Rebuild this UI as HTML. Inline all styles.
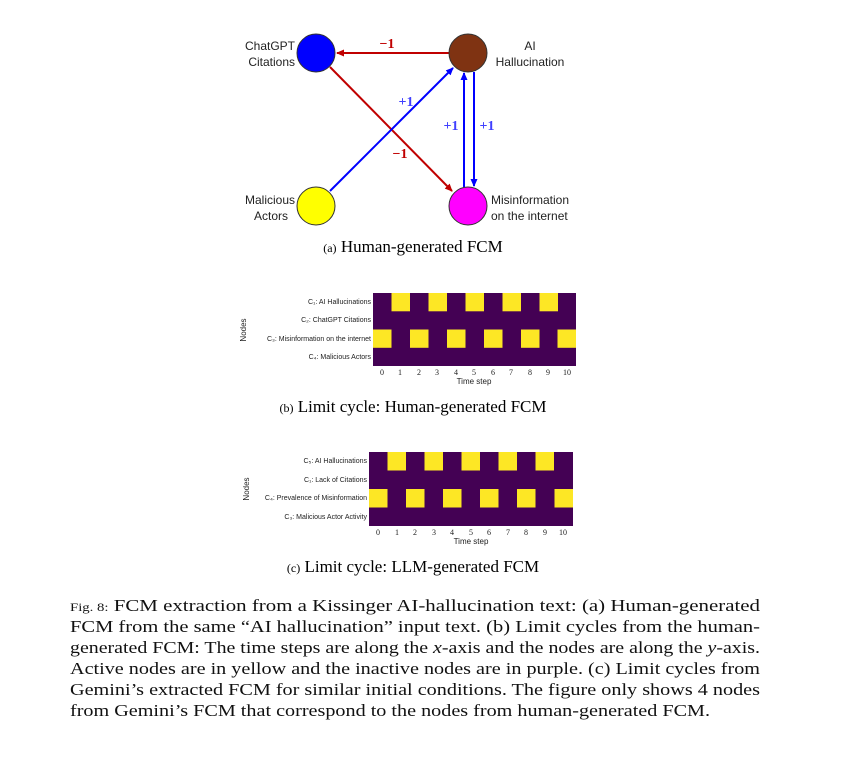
<!DOCTYPE html>
<html><head><style>
body{margin:0;background:#fff;width:853px;height:771px;overflow:hidden}
svg{display:block}
.s{font-family:"Liberation Sans",sans-serif}
.r{font-family:"Liberation Serif",serif}
</style></head><body>
<svg width="853" height="771" viewBox="0 0 853 771" xmlns="http://www.w3.org/2000/svg">
<defs>
<marker id="ar" markerWidth="8" markerHeight="8" refX="7" refY="4" orient="auto" markerUnits="userSpaceOnUse"><path d="M0,0.5 L8,4 L0,7.5 Z" fill="#c00000"/></marker>
<marker id="ab" markerWidth="8" markerHeight="8" refX="7" refY="4" orient="auto" markerUnits="userSpaceOnUse"><path d="M0,0.5 L8,4 L0,7.5 Z" fill="#0000ff"/></marker>
</defs>
<!-- edges -->
<line x1="449" y1="53" x2="337" y2="53" stroke="#c00000" stroke-width="2" marker-end="url(#ar)"/>
<line x1="330" y1="67" x2="452" y2="191" stroke="#c00000" stroke-width="2" marker-end="url(#ar)"/>
<line x1="330" y1="191" x2="453" y2="68" stroke="#0000ff" stroke-width="2" marker-end="url(#ab)"/>
<line x1="464" y1="187" x2="464" y2="73" stroke="#0000ff" stroke-width="2" marker-end="url(#ab)"/>
<line x1="474" y1="72" x2="474" y2="186" stroke="#0000ff" stroke-width="2" marker-end="url(#ab)"/>
<circle cx="316" cy="53" r="19" fill="#0000ff" stroke="#333" stroke-width="1"/>
<circle cx="468" cy="53" r="19" fill="#7f3312" stroke="#333" stroke-width="1"/>
<circle cx="316" cy="206" r="19" fill="#ffff00" stroke="#333" stroke-width="1"/>
<circle cx="468" cy="206" r="19" fill="#ff00ff" stroke="#333" stroke-width="1"/>
<g class="r" font-size="14" font-weight="bold">
<text x="387" y="48" fill="#c00000" text-anchor="middle">−1</text>
<text x="400" y="158" fill="#c00000" text-anchor="middle">−1</text>
<text x="406" y="106" fill="#4040ff" text-anchor="middle">+1</text>
<text x="451" y="130" fill="#4040ff" text-anchor="middle">+1</text>
<text x="487" y="130" fill="#4040ff" text-anchor="middle">+1</text>
</g>
<g class="s" font-size="12" fill="#222">
<text x="295" y="50" text-anchor="end">ChatGPT</text>
<text x="295" y="66" text-anchor="end">Citations</text>
<text x="530" y="50" text-anchor="middle">AI</text>
<text x="530" y="66" text-anchor="middle">Hallucination</text>
<text x="295" y="204" text-anchor="end">Malicious</text>
<text x="288" y="220" text-anchor="end">Actors</text>
<text x="491" y="204">Misinformation</text>
<text x="491" y="220">on the internet</text>
</g>
<text x="413" y="252" class="r" font-size="17" text-anchor="middle"><tspan font-size="12">(a)</tspan> Human-generated FCM</text>

<!-- heatmap b -->
<rect x="373" y="293" width="203" height="73" fill="#440154"/>
<g fill="#fde725">
<rect x="391.5" y="293" width="18.5" height="18.3"/><rect x="428.5" y="293" width="18.5" height="18.3"/><rect x="465.5" y="293" width="18.5" height="18.3"/><rect x="502.5" y="293" width="18.5" height="18.3"/><rect x="539.5" y="293" width="18.5" height="18.3"/>
<rect x="373" y="329.5" width="18.5" height="18.3"/><rect x="410" y="329.5" width="18.5" height="18.3"/><rect x="447" y="329.5" width="18.5" height="18.3"/><rect x="484" y="329.5" width="18.5" height="18.3"/><rect x="521" y="329.5" width="18.5" height="18.3"/><rect x="557.5" y="329.5" width="18.5" height="18.3"/>
</g>
<g class="s" font-size="7" fill="#222" text-anchor="end">
<text x="371" y="304">C₁: AI Hallucinations</text>
<text x="371" y="322">C₂: ChatGPT Citations</text>
<text x="371" y="341">C₃: Misinformation on the internet</text>
<text x="371" y="359">C₄: Malicious Actors</text>
</g>
<text class="s" font-size="8" fill="#222" transform="translate(246,330) rotate(-90)" text-anchor="middle">Nodes</text>
<g class="r" font-size="8" fill="#222" text-anchor="middle">
<text x="382" y="375">0</text><text x="400" y="375">1</text><text x="419" y="375">2</text><text x="437" y="375">3</text><text x="456" y="375">4</text><text x="474" y="375">5</text><text x="493" y="375">6</text><text x="511" y="375">7</text><text x="530" y="375">8</text><text x="548" y="375">9</text><text x="567" y="375">10</text>
</g>
<text x="474" y="384" class="s" font-size="8" fill="#222" text-anchor="middle">Time step</text>
<text x="413" y="412" class="r" font-size="17" text-anchor="middle"><tspan font-size="12">(b)</tspan> Limit cycle: Human-generated FCM</text>

<!-- heatmap c -->
<rect x="369" y="452" width="204" height="74" fill="#440154"/>
<g fill="#fde725">
<rect x="387.5" y="452" width="18.5" height="18.5"/><rect x="424.5" y="452" width="18.5" height="18.5"/><rect x="461.5" y="452" width="18.5" height="18.5"/><rect x="498.5" y="452" width="18.5" height="18.5"/><rect x="535.5" y="452" width="18.5" height="18.5"/>
<rect x="369" y="489" width="18.5" height="18.5"/><rect x="406" y="489" width="18.5" height="18.5"/><rect x="443" y="489" width="18.5" height="18.5"/><rect x="480" y="489" width="18.5" height="18.5"/><rect x="517" y="489" width="18.5" height="18.5"/><rect x="554.5" y="489" width="18.5" height="18.5"/>
</g>
<g class="s" font-size="7" fill="#222" text-anchor="end">
<text x="367" y="463">C₅: AI Hallucinations</text>
<text x="367" y="482">C₁: Lack of Citations</text>
<text x="367" y="500">C₄: Prevalence of Misinformation</text>
<text x="367" y="519">C₃: Malicious Actor Activity</text>
</g>
<text class="s" font-size="8" fill="#222" transform="translate(249,489) rotate(-90)" text-anchor="middle">Nodes</text>
<g class="r" font-size="8" fill="#222" text-anchor="middle">
<text x="378" y="535">0</text><text x="397" y="535">1</text><text x="415" y="535">2</text><text x="434" y="535">3</text><text x="452" y="535">4</text><text x="471" y="535">5</text><text x="489" y="535">6</text><text x="508" y="535">7</text><text x="526" y="535">8</text><text x="545" y="535">9</text><text x="563" y="535">10</text>
</g>
<text x="471" y="544" class="s" font-size="8" fill="#222" text-anchor="middle">Time step</text>
<text x="413" y="572" class="r" font-size="17" text-anchor="middle"><tspan font-size="12">(c)</tspan> Limit cycle: LLM-generated FCM</text>

<g class="r" font-size="17" fill="#111">
<text x="70" y="611" textLength="690" lengthAdjust="spacingAndGlyphs"><tspan font-size="12">Fig. 8:</tspan>  FCM extraction from a Kissinger AI-hallucination text: (a) Human-generated</text>
<text x="70" y="632" textLength="690" lengthAdjust="spacingAndGlyphs">FCM from the same “AI hallucination” input text. (b) Limit cycles from the human-</text>
<text x="70" y="653" textLength="690" lengthAdjust="spacingAndGlyphs">generated FCM: The time steps are along the <tspan font-style="italic">x</tspan>-axis and the nodes are along the <tspan font-style="italic">y</tspan>-axis.</text>
<text x="70" y="674" textLength="690" lengthAdjust="spacingAndGlyphs">Active nodes are in yellow and the inactive nodes are in purple. (c) Limit cycles from</text>
<text x="70" y="695" textLength="690" lengthAdjust="spacingAndGlyphs">Gemini’s extracted FCM for similar initial conditions. The figure only shows 4 nodes</text>
<text x="70" y="716" textLength="640" lengthAdjust="spacingAndGlyphs">from Gemini’s FCM that correspond to the nodes from human-generated FCM.</text>
</g>
</svg>
</body></html>
